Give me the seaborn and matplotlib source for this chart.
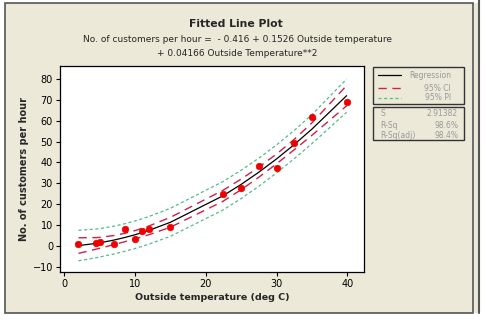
import numpy as np
import pandas as pd
import matplotlib
matplotlib.use("Agg")
import matplotlib.pyplot as plt
from matplotlib.patches import Rectangle
from matplotlib.lines import Line2D
import seaborn as sns

# ---- data ----
temperature = [2, 4.5, 5, 7, 8.6, 10, 11, 12, 15, 22.4, 25, 27.5, 30, 32.4, 35, 39.9]
customers = [0.7, 1.1, 1.6, 1.0, 8.2, 3.2, 7.2, 7.9, 8.8, 24.7, 27.8, 38.3, 37.1, 49.5, 61.8, 69.1]

# fitted equation coefficients (from title)
b0, b1, b2 = -0.416, 0.1526, 0.04166
S_value = 2.91382
t_crit = 2.160  # t(0.975, df = n - 3)

stat_labels = ["S", "R-Sq", "R-Sq(adj)"]
stat_values = ["2.91382", "98.6%", "98.4%"]

x_ticks = [0, 10, 20, 30, 40]
y_ticks = [-10, 0, 10, 20, 30, 40, 50, 60, 70, 80]

# ---- fit and bands ----
xs = np.array(temperature, dtype=float)
X = np.column_stack([np.ones_like(xs), xs, xs ** 2])
XtX_inv = np.linalg.inv(X.T @ X)
grid = np.sort(np.unique(xs))
G = np.column_stack([np.ones_like(grid), grid, grid ** 2])
fit = b0 + b1 * grid + b2 * grid ** 2
h = np.einsum("ij,jk,ik->i", G, XtX_inv, G)
ci = t_crit * S_value * np.sqrt(h)
pi = t_crit * S_value * np.sqrt(1 + h)

bands = pd.DataFrame({
    "x": np.concatenate([grid] * 5),
    "y": np.concatenate([fit, fit - ci, fit + ci, fit - pi, fit + pi]),
    "curve": (["fit"] * len(grid) + ["ci_lo"] * len(grid) + ["ci_hi"] * len(grid)
              + ["pi_lo"] * len(grid) + ["pi_hi"] * len(grid)),
})
pts = pd.DataFrame({"x": temperature, "y": customers})

sns.set_theme(style="white")
plt.rcParams["font.family"] = ["DejaVu Sans"]

W, H = 486, 322
fig = plt.figure(figsize=(W / 100, H / 100), dpi=100)
fig.patch.set_facecolor("white")

bg = "#ECE9D8"
# main panel
fig.patches.append(Rectangle((5 / W, 1 - 313 / H), (473 - 5) / W, (313 - 3) / H,
                             transform=fig.transFigure, facecolor=bg,
                             edgecolor="#555555", linewidth=1.2, zorder=-5))
fig.patches.append(Rectangle((473.6 / W, 1 - 313 / H), 5 / W, (313 - 3) / H,
                             transform=fig.transFigure, facecolor=bg,
                             edgecolor="none", zorder=-5))
fig.lines.append(Line2D([479 / W, 479 / W], [1 - 313 / H, 1.0],
                        transform=fig.transFigure, color="#555555", linewidth=1.5,
                        zorder=-4))

ax = fig.add_axes([60 / W, 1 - 272 / H, (364 - 60) / W, (272 - 66) / H])
ax.set_zorder(2)
ax.set_facecolor("white")

styles = {
    "fit": dict(color="black", lw=0.9, ls="-"),
    "ci_lo": dict(color="#CC2244", lw=1.0, ls=(0, (6, 4))),
    "ci_hi": dict(color="#CC2244", lw=1.0, ls=(0, (6, 4))),
    "pi_lo": dict(color="#55BB88", lw=0.9, ls=(0, (2.5, 2))),
    "pi_hi": dict(color="#55BB88", lw=0.9, ls=(0, (2.5, 2))),
}
for name, st in styles.items():
    sub = bands[bands["curve"] == name]
    sns.lineplot(data=sub, x="x", y="y", ax=ax, color=st["color"],
                 linewidth=st["lw"], linestyle=st["ls"], sort=True,
                 estimator=None, legend=False)

sns.scatterplot(data=pts, x="x", y="y", ax=ax, color="#EE0000", s=22,
                edgecolor="#EE0000", linewidth=0.5, zorder=5, legend=False)

ax.set_xlim(-0.61, 42.36)
ax.set_ylim(-12.62, 86.24)
ax.set_xticks(x_ticks)
ax.set_yticks(y_ticks)
ax.tick_params(axis="both", which="both", direction="out", length=3, width=0.8,
               labelsize=7, colors="black", pad=2, bottom=True, left=True)
for sp in ax.spines.values():
    sp.set_color("black")
    sp.set_linewidth(0.9)
ax.set_xlabel("Outside temperature (deg C)", fontsize=6.8, fontweight="bold", labelpad=3)
ax.set_ylabel("No. of customers per hour", fontsize=7.0, fontweight="bold", labelpad=2.5)

fig.text(236 / W, 1 - 24 / H, "Fitted Line Plot", ha="center", va="center",
         fontsize=7.8, fontweight="bold")
fig.text(237 / W, 1 - 40 / H,
         "No. of customers per hour =  - 0.416 + 0.1526 Outside temperature",
         ha="center", va="center", fontsize=6.5)
fig.text(237 / W, 1 - 53 / H, "+ 0.04166 Outside Temperature**2",
         ha="center", va="center", fontsize=6.5)

# legend box
fig.patches.append(Rectangle((373 / W, 1 - 104 / H), (464 - 373) / W, (104 - 67) / H,
                             transform=fig.transFigure, facecolor=bg,
                             edgecolor="#333333", linewidth=1.0, zorder=2))
leg_rows = [("Regression", "fit", 75), ("95% CI", "ci_lo", 88), ("95% PI", "pi_lo", 98)]
for label, key, yy in leg_rows:
    st = styles[key]
    fig.lines.append(Line2D([378 / W, 401 / W], [1 - yy / H, 1 - yy / H],
                            transform=fig.transFigure, color=st["color"],
                            linewidth=st["lw"], linestyle=st["ls"], zorder=3))
    fig.text(451 / W, 1 - yy / H, label, ha="right", va="center", fontsize=5.5,
             color="#999999", zorder=3)

# stats box
fig.patches.append(Rectangle((373 / W, 1 - 140 / H), (464 - 373) / W, (140 - 107) / H,
                             transform=fig.transFigure, facecolor=bg,
                             edgecolor="#333333", linewidth=1.0, zorder=2))
for (lab, val), yy in zip(zip(stat_labels, stat_values), [114, 125, 135]):
    fig.text(380 / W, 1 - yy / H, lab, ha="left", va="center", fontsize=5.5,
             color="#999999", zorder=3)
    fig.text(458 / W, 1 - yy / H, val, ha="right", va="center", fontsize=5.5,
             color="#999999", zorder=3)

fig.savefig("out.png", dpi=100, facecolor=fig.get_facecolor())
